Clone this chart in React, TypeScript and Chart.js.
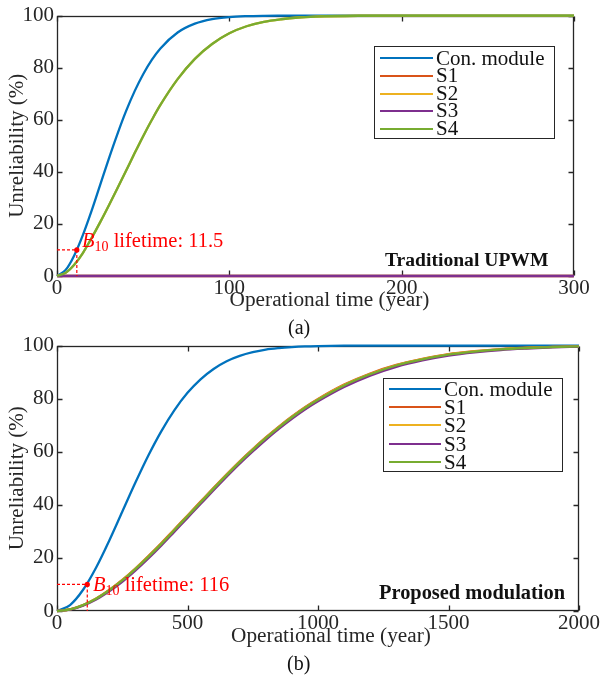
import React, { useEffect, useRef } from 'react';
import { Chart, registerables } from 'chart.js';

Chart.register(...registerables);

// ---------------- data ----------------
const SERIES_NAMES = ['Con. module', 'S1', 'S2', 'S3', 'S4'];
const SERIES_COLORS = ['#0072BD', '#D95319', '#EDB120', '#7E2F8E', '#77AC30'];

// (a) Traditional UPWM
const TOP_T = [0, 5, 10, 15, 20, 25, 30, 35, 40, 45, 50, 55, 60, 70, 80, 90, 100, 110, 120, 130, 140, 150, 175, 200, 250, 300];
const TOP_CON = [0, 2.3, 7.9, 15.7, 24.9, 34.9, 44.9, 54.4, 63.2, 70.9, 77.5, 83, 87.4, 93.5, 96.9, 98.65, 99.45, 99.79, 99.93, 99.98, 100, 100, 100, 100, 100, 100];
const TOP_S1 = [0, 0, 0, 0, 0, 0, 0, 0, 0, 0, 0, 0, 0, 0, 0, 0, 0, 0, 0, 0, 0, 0, 0, 0, 0, 0];
const TOP_S2 = [0, 1.2, 4.3, 8.8, 14.5, 20.6, 27, 33.6, 40.3, 47.1, 53.7, 59.9, 65.7, 75.6, 83.4, 89.1, 93.2, 95.9, 97.6, 98.6, 99.27, 99.6, 99.94, 100, 100, 100];
const TOP_S3 = [0, 0, 0, 0, 0, 0, 0, 0, 0, 0, 0, 0, 0, 0, 0, 0, 0, 0, 0, 0, 0, 0, 0, 0, 0, 0];
const TOP_S4 = [0, 1.2, 4.3, 8.8, 14.5, 20.6, 27, 33.6, 40.3, 47.1, 53.7, 59.9, 65.7, 75.6, 83.4, 89.1, 93.2, 95.9, 97.6, 98.6, 99.27, 99.6, 99.94, 100, 100, 100];
const TOP_X_MAX = 300;
const TOP_X_STEP = 100;
const TOP_B10 = 11.5;

// (b) Proposed modulation
const BOT_T = [0, 50, 100, 150, 200, 250, 300, 350, 400, 450, 500, 550, 600, 650, 700, 750, 800, 850, 900, 950, 1000, 1100, 1200, 1300, 1400, 1500, 1600, 1700, 1800, 1900, 2000];
const BOT_CON = [0, 2.25, 8, 16.4, 26.5, 37.4, 48.3, 58.6, 67.8, 75.7, 82.2, 87.3, 91.2, 94.1, 96.1, 97.5, 98.5, 99.07, 99.45, 99.7, 99.83, 99.96, 100, 100, 100, 100, 100, 100, 100, 100, 100];
const BOT_S1 = [0, 0.6, 2.2, 4.7, 7.9, 11.7, 16, 20.7, 25.6, 30.8, 36, 41.2, 46.4, 51.5, 56.4, 61, 65.4, 69.5, 73.3, 76.8, 79.9, 85.3, 89.5, 92.7, 95, 96.8, 97.9, 98.7, 99.2, 99.5, 99.7];
const BOT_S2 = [0, 0.6, 2.2, 4.6, 7.8, 11.6, 15.9, 20.5, 25.4, 30.6, 35.8, 41, 46.2, 51.3, 56.2, 60.8, 65.2, 69.3, 73.1, 76.6, 79.7, 85.1, 89.3, 92.6, 94.9, 96.7, 97.8, 98.6, 99.1, 99.5, 99.7];
const BOT_S3 = [0, 0.5, 2, 4.3, 7.4, 11, 15.2, 19.8, 24.7, 29.9, 35.1, 40.3, 45.5, 50.6, 55.5, 60.1, 64.5, 68.6, 72.4, 75.9, 79, 84.4, 88.7, 92, 94.4, 96.2, 97.45, 98.35, 98.9, 99.3, 99.6];
const BOT_S4 = [0, 0.6, 2.2, 4.6, 7.8, 11.5, 15.8, 20.4, 25.3, 30.5, 35.7, 40.9, 46.1, 51.2, 56.1, 60.7, 65.1, 69.2, 73, 76.5, 79.6, 85, 89.2, 92.5, 94.8, 96.6, 97.75, 98.57, 99.1, 99.46, 99.68];
const BOT_X_MAX = 2000;
const BOT_X_STEP = 500;
const BOT_B10 = 116;

const B10_LEVEL = 10;
const Y_MAX = 100;
const Y_STEP = 20;

// ---------------- style ----------------
const FONT = '"Liberation Serif", "Times New Roman", Times, serif';
const AXIS = '#262626';
const RED = '#FF0000';

const framePlugin = {
  id: 'matlabFrame',
  beforeDraw(chart: any) {
    const s: any = chart.scales.x;
    const shift = chart.options.plugins.matlabFrame?.titleShift || 0;
    if (s && !s.__wrapped) {
      const orig = s.drawTitle;
      s.drawTitle = function (...args: any[]) {
        const c = this.ctx;
        c.save();
        c.translate(shift, 0);
        orig.apply(this, args);
        c.restore();
      };
      s.__wrapped = true;
    }
  },
  beforeDatasetsDraw(chart: any) {
    const { ctx, chartArea: a } = chart;
    const xs = chart.scales.x;
    const ys = chart.scales.y;
    const L = Math.round(a.left) + 0.5;
    const R = Math.round(a.right) - 0.5;
    const T = Math.round(a.top) + 0.5;
    const B = Math.round(a.bottom) - 0.5;
    ctx.save();
    ctx.strokeStyle = AXIS;
    ctx.lineWidth = 1.3;
    ctx.strokeRect(L, T, R - L, B - T);
    ctx.beginPath();
    const tl = 5;
    xs.ticks.forEach((t: any) => {
      const px = Math.round(xs.getPixelForValue(t.value)) + 0.5;
      ctx.moveTo(px, B);
      ctx.lineTo(px, B - tl);
      ctx.moveTo(px, T);
      ctx.lineTo(px, T + tl);
    });
    ys.ticks.forEach((t: any) => {
      const py = Math.round(ys.getPixelForValue(t.value)) + 0.5;
      ctx.moveTo(L, py);
      ctx.lineTo(L + tl, py);
      ctx.moveTo(R, py);
      ctx.lineTo(R - tl, py);
    });
    ctx.stroke();
    ctx.restore();
  },
};

const b10Plugin = {
  id: 'b10',
  afterDatasetsDraw(chart: any, _args: any, opts: any) {
    const { ctx } = chart;
    const xs = chart.scales.x;
    const ys = chart.scales.y;
    const px = xs.getPixelForValue(opts.t);
    const py = ys.getPixelForValue(opts.level);
    const x0 = xs.getPixelForValue(0);
    const y0 = ys.getPixelForValue(0);
    ctx.save();
    ctx.strokeStyle = RED;
    ctx.lineWidth = 1.2;
    ctx.setLineDash([3, 2]);
    ctx.beginPath();
    ctx.moveTo(x0, py);
    ctx.lineTo(px, py);
    ctx.moveTo(px, py);
    ctx.lineTo(px, y0);
    ctx.stroke();
    ctx.setLineDash([]);
    ctx.fillStyle = RED;
    ctx.beginPath();
    ctx.arc(px, py, 2.6, 0, Math.PI * 2);
    ctx.fill();
    ctx.restore();
  },
};

type Params = {
  T: number[];
  series: number[][];
  xMax: number;
  xStep: number;
  b10: number;
  areaTop: number;
  padRight: number;
  xScaleH: number;
  xTitlePad: number;
  xTickPad: number;
  titleShift: number;
};

function buildConfig(p: Params): any {
  const n = SERIES_NAMES.length;
  const datasets = SERIES_NAMES.map((name, i) => ({
    label: name,
    data: p.T.map((t, k) => ({ x: t, y: p.series[i][k] })),
    borderColor: SERIES_COLORS[i],
    backgroundColor: SERIES_COLORS[i],
    borderWidth: 2.3,
    pointRadius: 0,
    pointHoverRadius: 0,
    fill: false,
    cubicInterpolationMode: 'monotone',
    clip: false,
    order: n - 1 - i,
  }));
  return {
    type: 'line',
    data: { datasets },
    plugins: [framePlugin, b10Plugin],
    options: {
      responsive: false,
      animation: false,
      events: [],
      layout: { padding: { top: p.areaTop, right: p.padRight, bottom: 0, left: 0 } },
      plugins: {
        legend: { display: false },
        tooltip: { enabled: false },
        b10: { t: p.b10, level: B10_LEVEL },
        matlabFrame: { titleShift: p.titleShift },
      },
      scales: {
        x: {
          type: 'linear',
          min: 0,
          max: p.xMax,
          ticks: {
            stepSize: p.xStep,
            font: { family: FONT, size: 21 },
            color: AXIS,
            padding: p.xTickPad,
            maxRotation: 0,
            autoSkip: false,
            callback: (v: number) => String(v),
          },
          grid: { display: false, drawTicks: false },
          border: { display: false },
          title: {
            display: true,
            text: 'Operational time (year)',
            font: { family: FONT, size: 21.3 },
            color: AXIS,
            padding: { top: 0, bottom: p.xTitlePad },
          },
          afterFit: (s: any) => {
            s.height = p.xScaleH;
          },
        },
        y: {
          type: 'linear',
          min: 0,
          max: Y_MAX,
          ticks: {
            stepSize: Y_STEP,
            font: { family: FONT, size: 21 },
            color: AXIS,
            padding: 3,
            callback: (v: number) => String(v),
          },
          grid: { display: false, drawTicks: false },
          border: { display: false },
          title: {
            display: true,
            text: 'Unreliability (%)',
            font: { family: FONT, size: 21 },
            color: AXIS,
            padding: { top: 5, bottom: 0 },
          },
          afterFit: (s: any) => {
            s.width = 57;
          },
        },
      },
    },
  };
}

function Legend({ left, top, width, height, rowTop, rowH, lineX0, lineX1, textX }: any) {
  return (
    <div
      style={{
        position: 'absolute',
        left,
        top,
        width,
        height,
        border: `1px solid ${AXIS}`,
        background: '#fff',
        boxSizing: 'border-box',
      }}
    >
      {SERIES_NAMES.map((name, i) => (
        <div key={name}>
          <div
            style={{
              position: 'absolute',
              left: lineX0 - left,
              top: rowTop - top + i * rowH + rowH / 2 - 1,
              width: lineX1 - lineX0,
              height: 2,
              background: SERIES_COLORS[i],
            }}
          />
          <div
            style={{
              position: 'absolute',
              left: textX - left,
              top: rowTop - top + i * rowH,
              height: rowH,
              lineHeight: `${rowH}px`,
              fontFamily: FONT,
              fontSize: 21,
              color: '#111',
              whiteSpace: 'nowrap',
            }}
          >
            {name}
          </div>
        </div>
      ))}
    </div>
  );
}

function B10Label({ left, top, value }: any) {
  return (
    <div
      style={{
        position: 'absolute',
        left,
        top,
        lineHeight: '20px',
        fontFamily: FONT,
        fontSize: 20.5,
        color: RED,
        whiteSpace: 'nowrap',
      }}
    >
      <i>B</i>
      <span style={{ fontSize: 14, position: 'relative', top: 4 }}>10</span> lifetime: {value}
    </div>
  );
}

function TextAt({ left, top, children, bold, size }: any) {
  return (
    <div
      style={{
        position: 'absolute',
        left,
        top,
        lineHeight: '20px',
        fontFamily: FONT,
        fontSize: size || 20,
        fontWeight: bold ? 'bold' : 'normal',
        color: '#111',
        whiteSpace: 'nowrap',
      }}
    >
      {children}
    </div>
  );
}

export default function App() {
  const topRef = useRef<HTMLCanvasElement>(null);
  const botRef = useRef<HTMLCanvasElement>(null);

  useEffect(() => {
    const top = new Chart(
      topRef.current as HTMLCanvasElement,
      buildConfig({
        T: TOP_T,
        series: [TOP_CON, TOP_S1, TOP_S2, TOP_S3, TOP_S4],
        xMax: TOP_X_MAX,
        xStep: TOP_X_STEP,
        b10: TOP_B10,
        areaTop: 11,
        padRight: 29,
        xScaleH: 59,
        xTitlePad: 22.2,
        xTickPad: 0,
        titleShift: 14,
      })
    );
    const bot = new Chart(
      botRef.current as HTMLCanvasElement,
      buildConfig({
        T: BOT_T,
        series: [BOT_CON, BOT_S1, BOT_S2, BOT_S3, BOT_S4],
        xMax: BOT_X_MAX,
        xStep: BOT_X_STEP,
        b10: BOT_B10,
        areaTop: 14,
        padRight: 24,
        xScaleH: 70,
        xTitlePad: 31.5,
        xTickPad: 0,
        titleShift: 13,
      })
    );
    return () => {
      top.destroy();
      bot.destroy();
    };
  }, []);

  return (
    <div
      style={{
        position: 'absolute',
        left: 0,
        top: 0,
        width: 603,
        height: 681,
        background: '#fff',
        overflow: 'hidden',
      }}
    >
      <canvas ref={topRef} width={603} height={335} style={{ position: 'absolute', left: 0, top: 0 }} />
      <canvas ref={botRef} width={603} height={351} style={{ position: 'absolute', left: 0, top: 330 }} />

      <Legend left={374} top={46} width={181} height={93} rowTop={48.5} rowH={17.6} lineX0={379} lineX1={432} textX={435} />
      <Legend left={383} top={378} width={180} height={94} rowTop={379.2} rowH={18.1} lineX0={388} lineX1={440} textX={443} />

      <B10Label left={82} top={230} value={TOP_B10} />
      <B10Label left={93} top={573.6} value={BOT_B10} />

      <TextAt left={385} top={250} bold size={19.6}>
        Traditional UPWM
      </TextAt>
      <TextAt left={379} top={582} bold size={20.4}>
        Proposed modulation
      </TextAt>
      <TextAt left={288} top={317}>
        (a)
      </TextAt>
      <TextAt left={287} top={652.5}>
        (b)
      </TextAt>
    </div>
  );
}
